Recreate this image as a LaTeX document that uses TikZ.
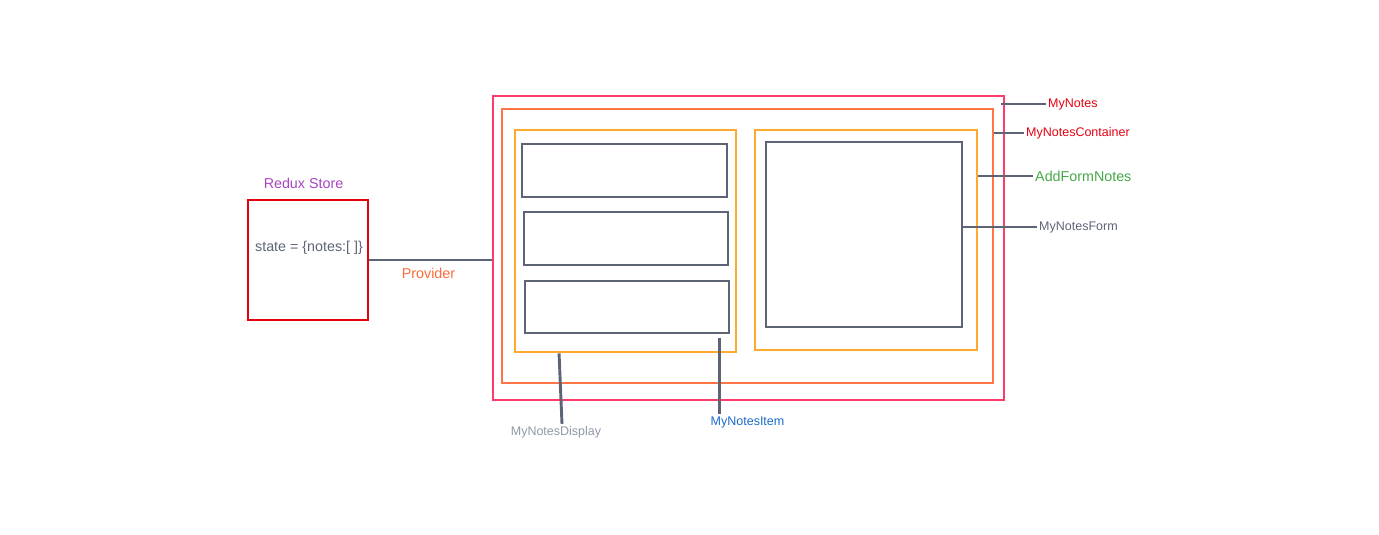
\documentclass[tikz,border=0pt]{standalone}
\usepackage{fontspec}
\setmainfont{Liberation Sans}
\usetikzlibrary{calc}

\definecolor{storered}{HTML}{E4000F}
\definecolor{notespink}{HTML}{FF3B6B}
\definecolor{contorange}{HTML}{FF7545}
\definecolor{paneorange}{HTML}{FFA92E}
\definecolor{slate}{HTML}{5C6475}
\definecolor{storepurple}{HTML}{A844BE}
\definecolor{provorange}{HTML}{FF6B3A}
\definecolor{formgreen}{HTML}{45A848}
\definecolor{dispgray}{HTML}{9098A6}
\definecolor{itemblue}{HTML}{1A6ACB}

\begin{document}
\begin{tikzpicture}[x=1pt, y=-1pt,
		box/.style={draw, inner sep=0pt, line width=2.9pt},
		leader/.style={draw=slate, line width=2.9pt},
		lbl/.style={font=\fontsize{12.5}{14}\selectfont, inner sep=2pt},
		biglbl/.style={font=\fontsize{14.3}{16}\selectfont, inner sep=2pt}
	]
	\useasboundingbox (0,0) rectangle (1379,535);

	% store
	\node[box, draw=storered, minimum width=120pt, minimum height=120pt] (store) at (308,260) {};
	\node[biglbl, text=storepurple] (storelbl) at (303.5,183) {Redux Store};
	\node[biglbl, text=slate] (state) at (309,248) {state = \{notes:[ ]\}};

	% components
	\node[box, draw=notespink, minimum width=511pt, minimum height=304pt] (mynotes) at (748.5,248) {};
	\node[box, draw=contorange, minimum width=491pt, minimum height=274pt] (container) at (747.5,246) {};
	\node[box, draw=paneorange, minimum width=221pt, minimum height=222pt] (display) at (625.5,241) {};
	\node[box, draw=paneorange, minimum width=222pt, minimum height=220pt] (addform) at (866,240) {};

	\node[box, draw=slate, minimum width=205pt, minimum height=53pt] (item1) at (624.5,170.5) {};
	\node[box, draw=slate, minimum width=204pt, minimum height=53pt] (item2) at (626,238.5) {};
	\node[box, draw=slate, minimum width=204pt, minimum height=52pt] (item3) at (627,307) {};
	\node[box, draw=slate, minimum width=196pt, minimum height=185pt] (form) at (864,234.5) {};

	% provider
	\draw[leader] (store.east) -- (store.east -| mynotes.west);
	\node[biglbl, text=provorange] (provlbl) at (428.5,273) {Provider};

	% labels
	\node[lbl, text=storered, anchor=west] (notesname) at (1046,104) {MyNotes};
	\node[lbl, text=storered, anchor=west] (contname) at (1024,133) {MyNotesContainer};
	\node[biglbl, text=formgreen, anchor=west] (addname) at (1033,176) {AddFormNotes};
	\node[lbl, text=slate, anchor=west] (formname) at (1037,227) {MyNotesForm};
	\node[lbl, text=dispgray] (dispname) at (556,432) {MyNotesDisplay};
	\node[lbl, text=itemblue] (itemname) at (747.5,422) {MyNotesItem};

	\draw[leader] ([xshift=-4pt]mynotes.east |- notesname.west) -- (notesname.west);
	\draw[leader] (container.east |- contname.west) -- (contname.west);
	\draw[leader] (addform.east |- addname.west) -- (addname.west);
	\draw[leader] (form.east |- formname.west) -- (formname.west);
	\draw[leader] ($(display.south west)+(45.5,0)$) -- ([xshift=6pt]dispname.north);
	\draw[leader] ($(item3.south east)+(-11,4)$) -- ([xshift=-11pt]item3.south east |- itemname.north);
\end{tikzpicture}
\end{document}
